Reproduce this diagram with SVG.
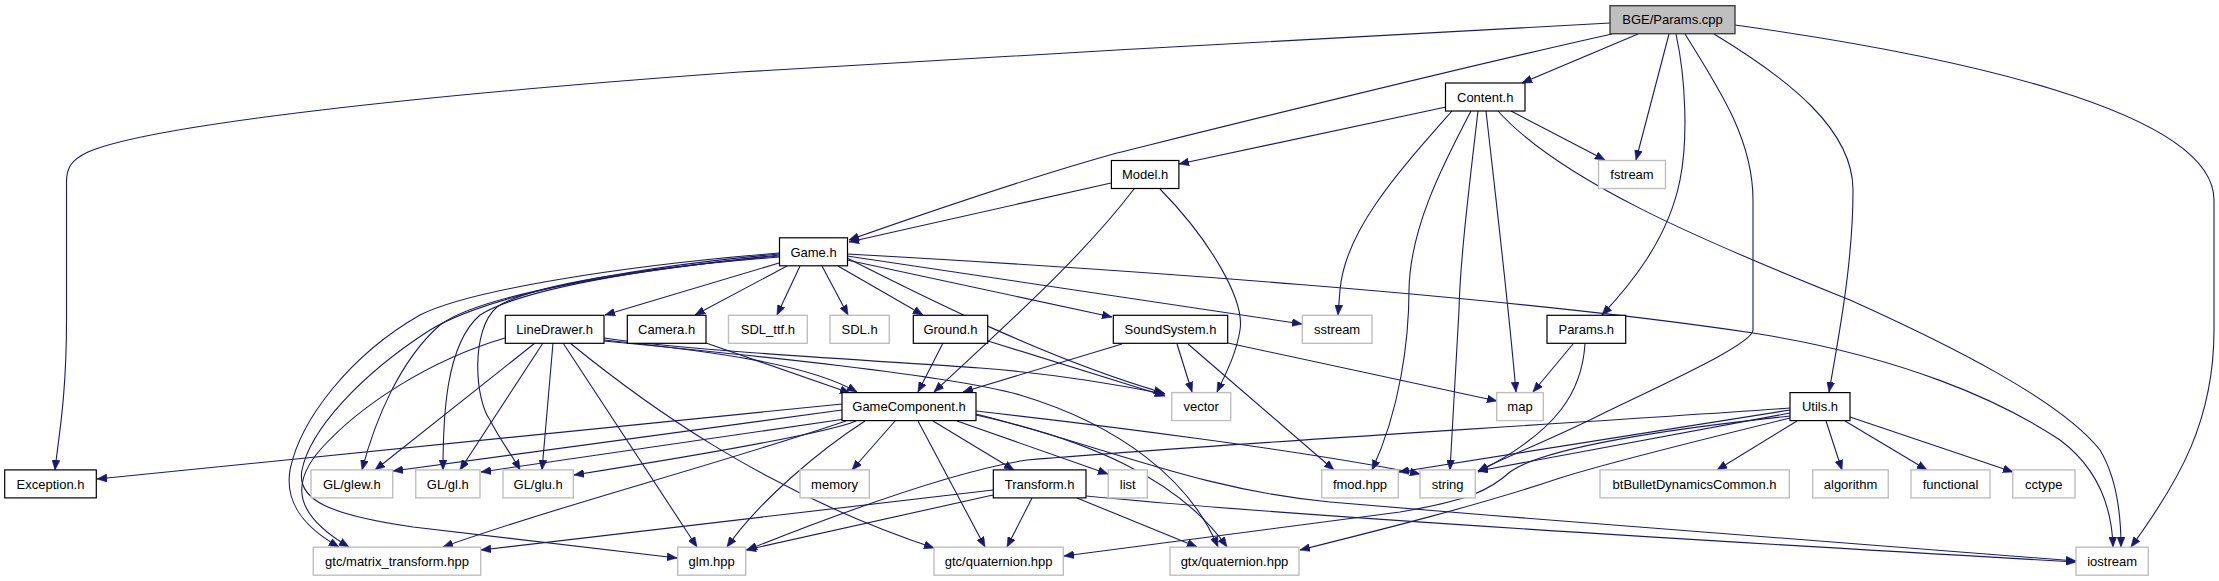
<svg xmlns="http://www.w3.org/2000/svg" width="2219" height="581" viewBox="0 0 2219 581">
<style>
.n rect{fill:#fff;stroke:#000;stroke-width:1.2}
.x rect{fill:#fff;stroke:#bfbfbf;stroke-width:1.4}
.r rect{fill:#bfbfbf;stroke:#404040;stroke-width:1.4}
text{font-family:"Liberation Sans",Arial,sans-serif;font-size:13px;text-anchor:middle;fill:#000}
#edges path{fill:none;stroke:#191970;stroke-width:1.1;marker-end:url(#ah)}
</style>
<defs>
<marker id="ah" markerWidth="10" markerHeight="8" refX="10" refY="4" orient="auto" markerUnits="userSpaceOnUse"><path d="M0,0 L10,4 L0,8 z" fill="#191970" stroke="#191970" stroke-width="0.5"/></marker>
</defs>
<rect width="2219" height="581" fill="#fff"/>
<g id="edges">
<!-- BGE/Params.cpp -->
<path d="M1610,23 C1400,33 1000,57 740,72 C420,95 150,125 88,152 C71,160 66.5,168 66.5,182 L66.5,320 C66.5,400 58,440 55,470"/>
<path d="M1612,34 C1450,70 1250,120 1117,153 C1020,180 920,215 849,240"/>
<path d="M1638,34 L1522,83"/>
<path d="M1669,34 L1636,160"/>
<path d="M1676,34 C1686,80 1688,140 1680,180 C1668,240 1630,285 1602,315"/>
<path d="M1685,34 C1720,90 1753,140 1753,200 L1753,330 C1753,345 1650,390 1600,415 C1550,440 1510,455 1478,471"/>
<path d="M1714,34 C1790,80 1853,130 1853,190 C1853,260 1840,330 1829,392"/>
<path d="M1735,25 C1950,55 2214,110 2214,200 L2214,330 C2214,420 2180,480 2131,547"/>
<!-- Content.h -->
<path d="M1446,107 L1179,164"/>
<path d="M1452,111 C1400,170 1345,230 1340,290 L1338,315"/>
<path d="M1471,111 C1440,170 1410,230 1409,290 C1409,340 1400,410 1372,470"/>
<path d="M1478,111 C1470,180 1460,260 1459,310 L1450,470"/>
<path d="M1486,111 C1496,200 1508,300 1516,392"/>
<path d="M1498,111 C1560,180 1700,240 1850,300 C1950,345 2060,400 2100,450 C2118,480 2121,520 2121,547"/>
<path d="M1511,111 L1605,160"/>
<!-- Model.h -->
<path d="M1111,183 L849,242"/>
<path d="M1134,189 C1080,260 1000,330 934,392"/>
<path d="M1160,189 C1210,240 1245,300 1240,330 C1236,355 1225,375 1217,392"/>
<!-- Game.h -->
<path d="M779,263 L605,315"/>
<path d="M787,266 L695,315"/>
<path d="M800,266 L777,315"/>
<path d="M822,266 L848,315"/>
<path d="M838,266 L923,315"/>
<path d="M847,260 L1112,317"/>
<path d="M847,258 C930,300 1050,360 1164,393"/>
<path d="M847,256 L1302,324"/>
<path d="M847,254 C1100,268 1500,295 1753,333 C1900,356 2000,400 2060,440 C2100,470 2112,510 2113,547"/>
<path d="M779,255 C620,272 480,295 440,325 C400,360 375,420 362,470"/>
<path d="M779,256 C640,268 520,290 480,315 C445,345 443,420 443,470"/>
<path d="M779,257 C640,268 530,285 497,307 C470,330 475,400 490,420 C500,440 512,455 520,470"/>
<path d="M779,253 C620,266 470,290 420,315 C350,355 300,420 290,470 C285,500 300,525 339,547"/>
<path d="M779,254 C600,270 480,300 430,330 C360,375 310,430 302,470 C296,500 330,515 413,527 L677,558"/>
<!-- LineDrawer.h -->
<path d="M505,338 C430,360 360,405 320,450 C290,485 295,515 349,547"/>
<path d="M535,343 L375,470"/>
<path d="M543,343 L460,470"/>
<path d="M553,343 L542,470"/>
<path d="M563,343 L697,547"/>
<path d="M570,343 C640,400 760,490 934,548"/>
<path d="M604,340 C720,352 810,365 857,392"/>
<path d="M604,338 C700,352 900,362 980,368 C1060,374 1120,385 1165,394"/>
<path d="M604,341 C750,355 950,375 1020,395 C1120,425 1190,480 1218,547"/>
<!-- Camera.h -->
<path d="M706,343 L850,393"/>
<!-- Ground.h -->
<path d="M943,343 L918,392"/>
<path d="M988,341 L1165,396"/>
<!-- SoundSystem.h -->
<path d="M1122,344 L963,392"/>
<path d="M1177,344 L1192,392"/>
<path d="M1188,344 L1334,470"/>
<path d="M1228,343 L1497,401"/>
<!-- Params.h -->
<path d="M1573,344 L1533,392"/>
<path d="M1585,344 C1582,390 1560,430 1478,472"/>
<!-- GameComponent.h -->
<path d="M842,404 L97,479"/>
<path d="M842,410 L393,471"/>
<path d="M845,419 L481,472"/>
<path d="M856,421 C830,432 700,455 574,475"/>
<path d="M846,421 C700,470 560,505 443,547"/>
<path d="M865,421 C820,450 760,500 727,547"/>
<path d="M895,421 L852,470"/>
<path d="M918,421 L985,547"/>
<path d="M933,421 L1014,470"/>
<path d="M957,421 L1108,474"/>
<path d="M976,415 C1090,440 1180,480 1227,547"/>
<path d="M976,411 C1100,425 1300,450 1420,474"/>
<path d="M976,414 C1100,445 1200,490 1330,502 C1600,525 1900,548 2076,561"/>
<!-- Transform.h -->
<path d="M993,490 L481,550"/>
<path d="M993,495 L746,550"/>
<path d="M1032,498 L1007,547"/>
<path d="M1077,498 L1197,547"/>
<path d="M1086,496 C1250,512 1600,535 2076,562"/>
<!-- Utils.h -->
<path d="M1826,421 L1842,470"/>
<path d="M1845,421 L1927,470"/>
<path d="M1850,417 L2013,472"/>
<path d="M1797,421 L1717,470"/>
<path d="M1790,410 L1399,472"/>
<path d="M1790,413 L1478,471"/>
<path d="M1790,408 C1500,428 1200,445 1027,460 C960,470 860,505 747,550"/>
<path d="M1790,416 C1640,432 1540,450 1510,472 C1490,490 1470,500 1400,512 L1064,556"/>
<path d="M1790,418 C1700,440 1600,465 1560,478 C1480,505 1380,530 1300,550"/>
</g>
<g id="n-root" class="r"><rect x="1610" y="5.7" width="125" height="28"/><text x="1672.5" y="24.4">BGE/Params.cpp</text></g>
<g id="n-content" class="n"><rect x="1445.5" y="83" width="79.5" height="28"/><text x="1485.2" y="101.7">Content.h</text></g>
<g id="n-fstream" class="x"><rect x="1598.5" y="160.5" width="67" height="28"/><text x="1632" y="179.2">fstream</text></g>
<g id="n-model" class="n"><rect x="1111.4" y="160.5" width="67.5" height="28"/><text x="1145.1" y="179.2">Model.h</text></g>
<g id="n-game" class="n"><rect x="779.5" y="237.8" width="68" height="28"/><text x="813.5" y="256.5">Game.h</text></g>
<g id="n-linedrawer" class="n"><rect x="505.3" y="315.3" width="98.7" height="28"/><text x="554.6" y="334">LineDrawer.h</text></g>
<g id="n-camera" class="n"><rect x="627.3" y="315.3" width="78.7" height="28"/><text x="666.6" y="334">Camera.h</text></g>
<g id="n-sdlttf" class="x"><rect x="728.5" y="315.3" width="78.8" height="28"/><text x="767.9" y="334">SDL_ttf.h</text></g>
<g id="n-sdl" class="x"><rect x="830" y="315.3" width="59.3" height="28"/><text x="859.6" y="334">SDL.h</text></g>
<g id="n-ground" class="n"><rect x="913.3" y="315.3" width="74.4" height="28"/><text x="950.5" y="334">Ground.h</text></g>
<g id="n-sound" class="n"><rect x="1113.3" y="315.3" width="114.4" height="28"/><text x="1170.5" y="334">SoundSystem.h</text></g>
<g id="n-sstream" class="x"><rect x="1302.3" y="315.3" width="69.7" height="28"/><text x="1337.1" y="334">sstream</text></g>
<g id="n-params" class="n"><rect x="1547" y="315.3" width="78.7" height="28"/><text x="1586.3" y="334">Params.h</text></g>
<g id="n-gamecomp" class="n"><rect x="842" y="392.6" width="134" height="28"/><text x="909" y="411.3">GameComponent.h</text></g>
<g id="n-vector" class="x"><rect x="1171.7" y="392.6" width="59" height="28"/><text x="1201.2" y="411.3">vector</text></g>
<g id="n-map" class="x"><rect x="1496.7" y="392.6" width="46.6" height="28"/><text x="1520" y="411.3">map</text></g>
<g id="n-utils" class="n"><rect x="1790" y="392.6" width="60" height="28"/><text x="1820" y="411.3">Utils.h</text></g>
<g id="n-exception" class="n"><rect x="4.7" y="469.9" width="91.6" height="28"/><text x="50.5" y="488.6">Exception.h</text></g>
<g id="n-glew" class="x"><rect x="311" y="469.9" width="81.7" height="28"/><text x="351.8" y="488.6">GL/glew.h</text></g>
<g id="n-gl" class="x"><rect x="415.7" y="469.9" width="64.3" height="28"/><text x="447.8" y="488.6">GL/gl.h</text></g>
<g id="n-glu" class="x"><rect x="503" y="469.9" width="70.3" height="28"/><text x="538.1" y="488.6">GL/glu.h</text></g>
<g id="n-memory" class="x"><rect x="800" y="469.9" width="69.3" height="28"/><text x="834.6" y="488.6">memory</text></g>
<g id="n-transform" class="n"><rect x="993.3" y="469.9" width="92.7" height="28"/><text x="1039.6" y="488.6">Transform.h</text></g>
<g id="n-list" class="x"><rect x="1108.3" y="469.9" width="39" height="28"/><text x="1127.8" y="488.6">list</text></g>
<g id="n-fmod" class="x"><rect x="1321.7" y="469.9" width="76.6" height="28"/><text x="1360" y="488.6">fmod.hpp</text></g>
<g id="n-string" class="x"><rect x="1420" y="469.9" width="55.3" height="28"/><text x="1447.6" y="488.6">string</text></g>
<g id="n-bullet" class="x"><rect x="1600" y="469.9" width="189.3" height="28"/><text x="1694.6" y="488.6">btBulletDynamicsCommon.h</text></g>
<g id="n-algorithm" class="x"><rect x="1812.7" y="469.9" width="75.6" height="28"/><text x="1850.5" y="488.6">algorithm</text></g>
<g id="n-functional" class="x"><rect x="1911" y="469.9" width="79" height="28"/><text x="1950.5" y="488.6">functional</text></g>
<g id="n-cctype" class="x"><rect x="2012.7" y="469.9" width="62.3" height="28"/><text x="2043.8" y="488.6">cctype</text></g>
<g id="n-matrix" class="x"><rect x="313.3" y="547.2" width="167.4" height="28"/><text x="397" y="565.9">gtc/matrix_transform.hpp</text></g>
<g id="n-glm" class="x"><rect x="677.7" y="547.2" width="68" height="28"/><text x="711.7" y="565.9">glm.hpp</text></g>
<g id="n-gtcquat" class="x"><rect x="934" y="547.2" width="129.3" height="28"/><text x="998.6" y="565.9">gtc/quaternion.hpp</text></g>
<g id="n-gtxquat" class="x"><rect x="1170" y="547.2" width="129" height="28"/><text x="1234.5" y="565.9">gtx/quaternion.hpp</text></g>
<g id="n-iostream" class="x"><rect x="2076" y="547.2" width="72.3" height="28"/><text x="2112.1" y="565.9">iostream</text></g>
</svg>
